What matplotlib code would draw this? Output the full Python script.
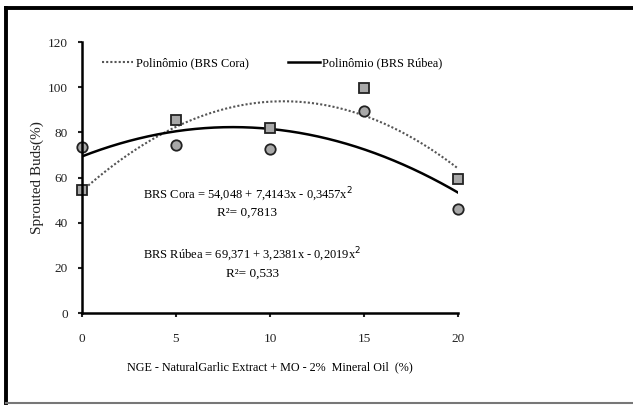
import numpy as np
import matplotlib
matplotlib.use("Agg")
import matplotlib.pyplot as plt
from matplotlib.lines import Line2D

# dose of garlic extract (%)
doses = [0, 5, 10, 15, 20]
cora = [54.5, 85.5, 82, 99.6, 59.2]      # squares
rubea = [73.5, 74.4, 72.8, 89.6, 46]     # circles

# fitted polynomials (c0, c1, c2) from the equations on the chart
cora_coef = [54.048, 7.4143, -0.3457]
rubea_coef = [69.371, 3.2381, -0.2019]

yticks = [0, 20, 40, 60, 80, 100, 120]
xticks = [0, 5, 10, 15, 20]

plt.rcParams['font.family'] = ['Liberation Serif', 'DejaVu Serif']

fig = plt.figure(figsize=(6.33, 4.05), dpi=100)
ax = fig.add_axes([0.1295, 0.227, 0.594, 0.669])

# frame around the whole figure: heavy top/left, light bottom
fig.add_artist(Line2D([0.0095, 1.0], [0.980, 0.980], transform=fig.transFigure,
                      color='black', linewidth=2.8))
fig.add_artist(Line2D([0.0095, 0.0095], [0.005, 0.980], transform=fig.transFigure,
                      color='black', linewidth=2.8))
fig.add_artist(Line2D([0.0095, 1.0], [0.006, 0.006], transform=fig.transFigure,
                      color='#777777', linewidth=1.5))

xs = np.linspace(0, 20, 200)
ax.plot(xs, cora_coef[0] + cora_coef[1] * xs + cora_coef[2] * xs ** 2,
        linestyle=(0, (1, 1)), color='#555555', linewidth=1.5,
        label='Polinômio (BRS Cora)')
ax.plot(xs, rubea_coef[0] + rubea_coef[1] * xs + rubea_coef[2] * xs ** 2,
        color='black', linewidth=1.8, label='Polinômio (BRS Rúbea)')

ax.plot(doses, cora, linestyle='none', marker='s', markersize=7, clip_on=False,
        markerfacecolor='#a8a8a8', markeredgecolor='#222222', markeredgewidth=1.3)
ax.plot(doses, rubea, linestyle='none', marker='o', markersize=7.5, clip_on=False,
        markerfacecolor='#a8a8a8', markeredgecolor='#222222', markeredgewidth=1.3)

ax.set_xlim(0, 20)
ax.set_ylim(0, 120)
ax.set_xticks(xticks)
ax.set_yticks(yticks)
for s in ['top', 'right']:
    ax.spines[s].set_visible(False)
for s in ['left', 'bottom']:
    ax.spines[s].set_linewidth(1.8)
ax.tick_params(direction='out', length=3, width=1.5, labelsize=9.5, colors='#222222')
ax.tick_params(axis='x', pad=11)
ax.tick_params(axis='y', pad=7)

ax.set_xlabel('NGE - NaturalGarlic Extract + MO - 2%  Mineral Oil  (%)', fontsize=8.7,
              labelpad=12)
ax.set_ylabel('Sprouted Buds(%)', fontsize=11, labelpad=3, color='#222222')

ax.legend(loc='upper center', bbox_to_anchor=(0.505, 0.985), ncol=2, frameon=False,
          fontsize=8.8, handlelength=2.6, handletextpad=0.2, columnspacing=3.2)

ax.text(8.8, 52.3, 'BRS Cora = 54,048 + 7,4143x - 0,3457x$^2$', ha='center', va='center',
        fontsize=9)
ax.text(8.8, 44.3, 'R²= 0,7813', ha='center', va='center', fontsize=9.5)
ax.text(9.05, 25.7, 'BRS Rúbea = 69,371 + 3,2381x - 0,2019x$^2$', ha='center',
        va='center', fontsize=9)
ax.text(9.05, 17.3, 'R²= 0,533', ha='center', va='center', fontsize=9.5)

fig.savefig('out.png', dpi=100)
